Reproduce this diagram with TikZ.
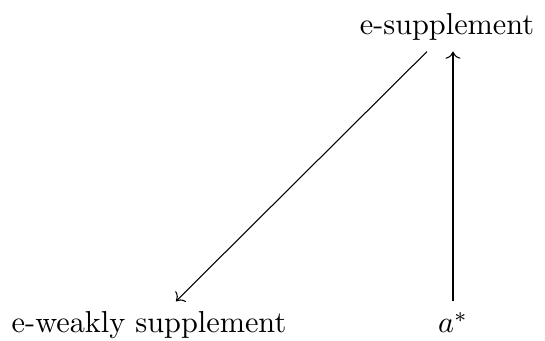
\documentclass[tikz,border=0pt]{standalone}
\usetikzlibrary{arrows.meta,positioning}
\tikzset{
  term/.style={anchor=base,inner sep=3.33pt},
  map/.style={-To,line width=0.35pt},
}
\begin{document}
\begin{tikzpicture}[x=0.33pt,y=0.33pt]
    \useasboundingbox (0,0) rectangle (545,341);
    \node[term] (supp) at (447,306) {e-supplement};
    \node[term] (weak) at (149,8) {e-weakly supplement};
    \node[term] (astar) at (453,8) {$a^*$};

    \draw[map] ([xshift=-6.6pt]supp.south) -- ([xshift=8.9pt]weak.north);
    \draw[map] (astar.north) -- (astar.north |- supp.south);
\end{tikzpicture}
\end{document}
